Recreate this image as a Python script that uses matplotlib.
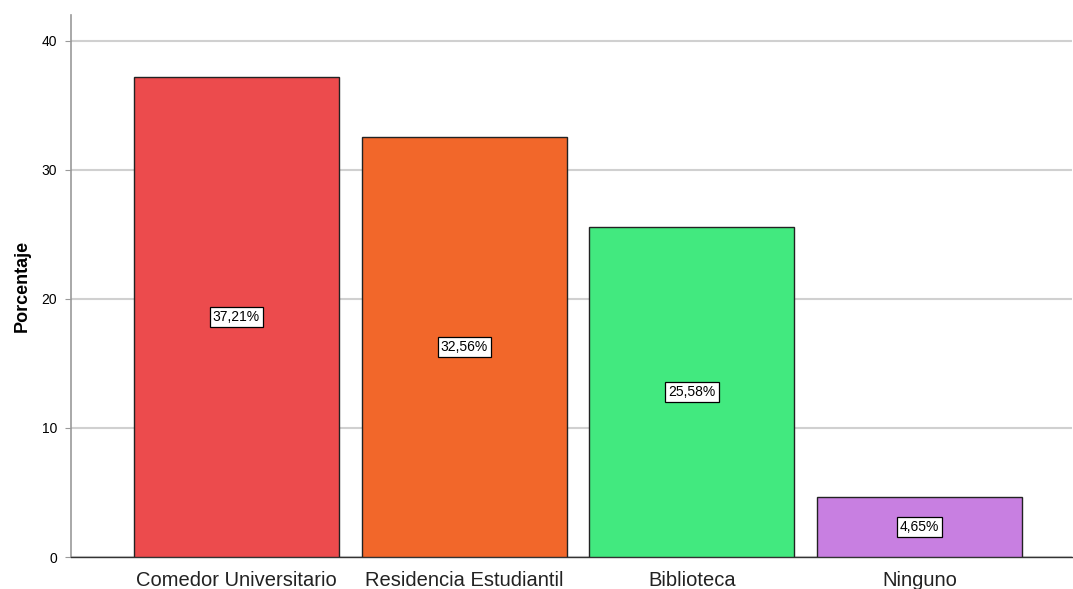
import matplotlib
matplotlib.use('Agg')
import matplotlib.pyplot as plt

plt.rcParams['font.family'] = ['Liberation Sans', 'DejaVu Sans']

categorias = ['Comedor Universitario', 'Residencia Estudiantil', 'Biblioteca', 'Ninguno']
porcentajes = [37.21, 32.56, 25.58, 4.65]
colores = ['#EC4B4D', '#F2672A', '#42E97F', '#C87FE1']
yticks = [0, 10, 20, 30, 40]

fig = plt.figure(figsize=(10.73, 5.89), dpi=100)
ax = fig.add_axes([0.0662, 0.0543, 0.933, 0.9202])

x = list(range(len(categorias)))
ax.bar(x, porcentajes, width=0.9, color=colores, edgecolor='#222222',
       linewidth=1.0, zorder=3)

# etiquetas de porcentaje en el centro de cada barra
for xi, v in zip(x, porcentajes):
    etiqueta = ('%.2f%%' % v).replace('.', ',')
    ax.text(xi, v / 2, etiqueta, ha='center', va='center', fontsize=10,
            zorder=4,
            bbox=dict(boxstyle='square,pad=0.22', facecolor='white',
                      edgecolor='black', linewidth=0.9))

ax.set_xlim(-0.726, 3.669)
ax.set_ylim(0, 42)
ax.set_yticks(yticks)
ax.set_yticklabels([str(t) for t in yticks], fontsize=10)
ax.set_xticks(x)
ax.set_xticklabels(categorias, fontsize=14.5, color='#222222')
ax.tick_params(axis='x', length=0, pad=10)
ax.tick_params(axis='y', length=4, color='#999999', pad=6)

ax.grid(axis='y', color='#d0d0d0', linewidth=1.5, zorder=0)
ax.set_axisbelow(True)

for lado in ['top', 'right']:
    ax.spines[lado].set_visible(False)
ax.spines['left'].set_color('#999999')
ax.spines['left'].set_linewidth(1.2)
ax.spines['bottom'].set_color('#333333')
ax.spines['bottom'].set_linewidth(1.0)

ax.set_ylabel('Porcentaje', fontsize=13, fontweight='bold', labelpad=8)

fig.savefig('out.png', dpi=100)
